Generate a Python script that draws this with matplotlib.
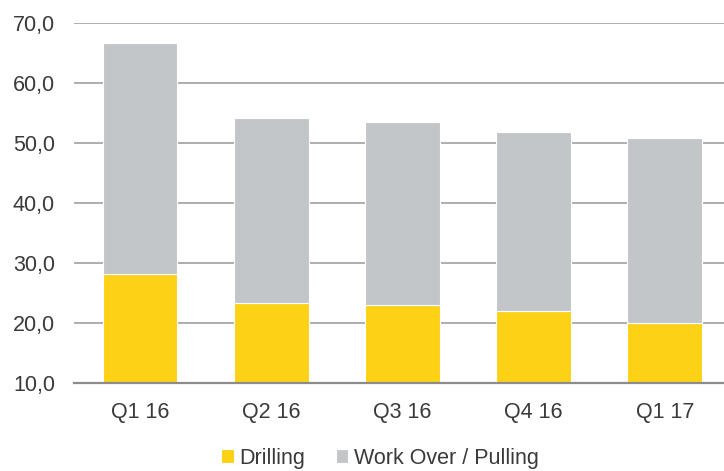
import matplotlib.pyplot as plt
import numpy as np

plt.rcParams["font.family"] = ["Liberation Sans", "DejaVu Sans"]

quarters = ["Q1 16", "Q2 16", "Q3 16", "Q4 16", "Q1 17"]
drilling = [28.2, 23.3, 23.0, 22.0, 20.0]
workover = [38.5, 30.9, 30.5, 29.8, 30.9]
yticks = [10, 20, 30, 40, 50, 60, 70]

yellow = "#FCD116"
grey = "#C3C6C8"
text_color = "#3A3A3A"

fig = plt.figure(figsize=(7.24, 4.71), dpi=100)
ax = fig.add_axes([74.4 / 724, 88 / 471, 656 / 724, 360 / 471])

x = np.arange(len(quarters))
base = 10
drill_h = [d - base for d in drilling]
ax.bar(x, drill_h, bottom=base, width=0.57, color=yellow, label="Drilling",
       edgecolor="white", linewidth=0.8, zorder=3)
ax.bar(x, workover, bottom=drilling, width=0.57, color=grey,
       label="Work Over / Pulling", edgecolor="white", linewidth=0.8, zorder=3)

ax.set_xlim(-0.5, len(quarters) - 0.5)
ax.set_ylim(10, 70)
ax.set_yticks(yticks)
ax.set_yticklabels([f"{v:.1f}".replace(".", ",") for v in yticks])
ax.set_xticks(x)
ax.set_xticklabels(quarters)
ax.tick_params(axis="both", length=0, labelsize=15.5, colors=text_color)
ax.tick_params(axis="x", pad=14)
ax.tick_params(axis="y", pad=14)

ax.grid(axis="y", color="#A8A8A8", linewidth=1.3, zorder=0)
for s in ["top", "right", "left"]:
    ax.spines[s].set_visible(False)
ax.spines["bottom"].set_color("#8C8C8C")
ax.spines["bottom"].set_linewidth(1.6)
ax.spines["bottom"].set_zorder(4)

fig.legend(loc="lower center", bbox_to_anchor=(380 / 724, -0.036), ncol=2,
           frameon=False, fontsize=15.5, handlelength=0.6, handleheight=0.6,
           handletextpad=0.25, columnspacing=1.4, labelcolor=text_color)

fig.savefig("out.png", dpi=100)
